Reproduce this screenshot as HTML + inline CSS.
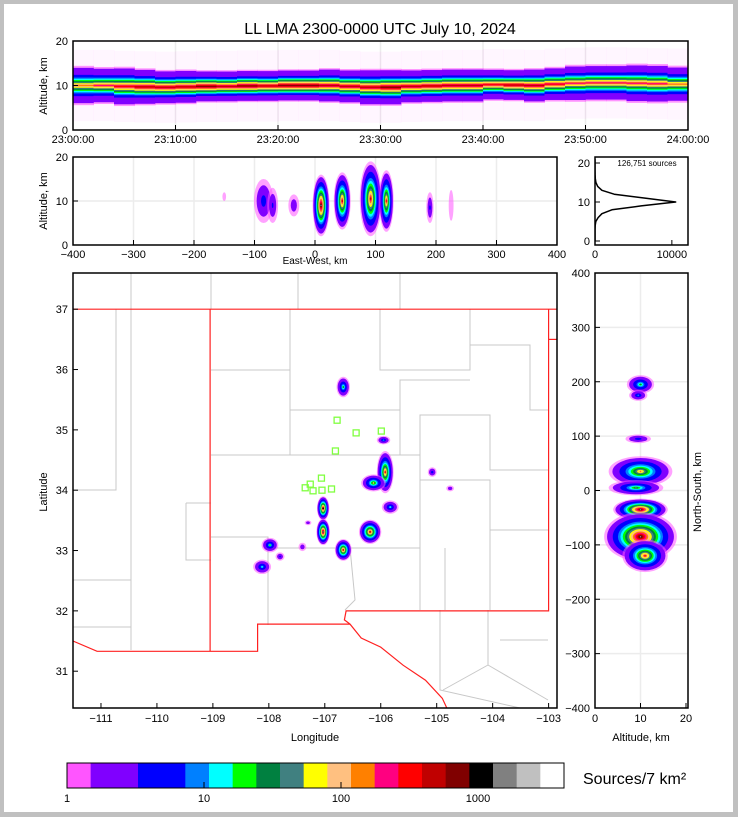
<!DOCTYPE html>
<html><head><meta charset="utf-8"><style>
html,body{margin:0;padding:0;background:#c0c0c0}
svg{display:block}
text{font-family:"Liberation Sans","DejaVu Sans",sans-serif;fill:#000}
</style></head><body>
<svg id="fig" width="738" height="817" viewBox="0 0 738 817" xmlns="http://www.w3.org/2000/svg">
<rect x="0" y="0" width="738" height="817" fill="#c0c0c0"/>
<rect x="4" y="4" width="729" height="808" fill="#fff"/>
<text x="380" y="34" font-size="16" text-anchor="middle">LL LMA 2300-0000 UTC July 10, 2024</text>
<g id="layer"></g>
</svg>
<script>
// ---- data ----
const colorLevels = ['#ff55ff','#8000ff','#8000ff','#0000ff','#0000ff','#0080ff','#00ffff','#00ff00','#008040','#408080','#ffff00','#ffc080','#ff8000','#ff0080','#ff0000','#c00000','#800000','#000000','#808080','#c0c0c0','#ffffff'];
const colorbarTicks = [1,10,100,1000];
const timeTickLabels = ['23:00:00','23:10:00','23:20:00','23:30:00','23:40:00','23:50:00','24:00:00'];
const timeBinLevels = [12,13,14,15,15,15,16,15,16,15,16,16,15,15,15,16,15,15,15,15,14,15,15,14,13,13,13,13,13,12];
const timeBinCenters = [10,10,9.8,9.7,9.6,9.7,9.8,9.8,9.9,9.9,10,10,10,9.8,9.6,9.6,9.8,9.9,10,10,10.2,10.1,10,10.3,10.5,10.6,10.6,10.5,10.4,10.3];
const timeBinSpread = [3.4,3.2,3.4,3.2,3,3,2.8,2.8,2.8,2.8,2.8,2.8,3,3,3.2,3.2,3,3,3,3,2.8,2.8,3,3,3.2,3.2,3.2,3.4,3.4,3.2];
const ewX = [-85,-70,-35,10,45,92,118,190,225,-150];
const ewAlt = [10,9,9,9,10,10.5,10,8.5,9,11];
const ewW = [16,9,9,14,14,18,12,6,4,3];
const ewH = [5,4,2.5,7,6.5,8.5,7,3.5,3.5,1];
const ewLevel = [4,3,2,18,15,15,14,3,0,0];
const histAlt = [0,1,2,3,4,5,6,7,8,9,10,11,12,13,14,15,16,17,18,19,20,21];
const histCount = [0,0,0,5,20,100,400,900,2200,6000,10500,6500,2500,900,350,120,40,15,5,0,0,0];
const mapLon = [-106.67,-105.92,-106.13,-105.83,-107.03,-107.03,-106.19,-106.67,-107.98,-108.12,-105.95,-105.08,-104.76,-107.4,-107.8,-107.3];
const mapLat = [35.71,34.3,34.12,33.72,33.70,33.31,33.31,33.01,33.09,32.73,34.83,34.3,34.03,33.06,32.9,33.46];
const mapRx = [0.12,0.15,0.22,0.15,0.11,0.12,0.2,0.15,0.15,0.16,0.12,0.08,0.07,0.07,0.08,0.06];
const mapRy = [0.17,0.35,0.14,0.11,0.2,0.22,0.2,0.18,0.12,0.12,0.07,0.08,0.05,0.07,0.07,0.04];
const mapLevel = [8,14,10,6,17,18,15,15,7,6,5,4,2,2,3,2];
const siteLon = [-106.78,-106.44,-105.99,-106.81,-107.06,-107.35,-107.26,-107.05,-106.88,-107.21];
const siteLat = [35.16,34.95,34.98,34.65,34.20,34.04,34.10,34.00,34.02,33.99];
const nsAlt = [10,9.5,10,9,10,10,11,9.5];
const nsY = [195,95,35,5,-35,-85,-120,175];
const nsRa = [3,2.8,7,6,6,8,5,2];
const nsRy = [17,8,28,14,20,45,30,10];
const nsLevel = [8,4,12,9,18,18,14,5];
const lonTicks = [-111,-110,-109,-108,-107,-106,-105,-104,-103];
const latTicks = [31,32,33,34,35,36,37];

// ---- helpers ----
const NS='http://www.w3.org/2000/svg';
const layer=document.getElementById('layer');
function el(tag,attrs,parent){const e=document.createElementNS(NS,tag);for(const k in attrs)e.setAttribute(k,attrs[k]);(parent||layer).appendChild(e);return e;}
function lin(d0,d1,r0,r1){return v=>r0+(v-d0)*(r1-r0)/(d1-d0);}
function txt(x,y,s,size,anchor,parent,name){const t=el('text',{x:x,y:y,'font-size':size,'text-anchor':anchor||'middle'},parent);t.textContent=s;return t;}
function panel(name,x,y,w,h){const g=el('g',{});
  const cp=el('clipPath',{id:'clip-'+name},g);el('rect',{x:x,y:y,width:w,height:h},cp);
  const inner=el('g',{'clip-path':'url(#clip-'+name+')'},g);
  return {g:g,inner:inner,x:x,y:y,w:w,h:h};}
function frame(p){const r=el('rect',{x:p.x,y:p.y,width:p.w,height:p.h,fill:'none',stroke:'#000','stroke-width':1.5},p.g);}
function gridV(p,x){el('line',{x1:x,x2:x,y1:p.y,y2:p.y+p.h,stroke:'#ececec','stroke-width':1.5},p.inner);}
function gridH(p,y){el('line',{x1:p.x,x2:p.x+p.w,y1:y,y2:y,stroke:'#ececec','stroke-width':1.5},p.inner);}
function tickB(p,x){el('line',{x1:x,x2:x,y1:p.y+p.h,y2:p.y+p.h-5,stroke:'#000'},p.g);}
function tickL(p,y){el('line',{x1:p.x,x2:p.x+5,y1:y,y2:y,stroke:'#000'},p.g);}
function blob(parent,cx,cy,rx,ry,L){for(let i=0;i<=L;i++){const f=Math.pow(1-i/(L+1.3),1.6);const e=el('ellipse',{cx:cx,cy:cy,rx:Math.max(0.8,rx*f),ry:Math.max(0.8,ry*f),fill:colorLevels[i],opacity:i===0?0.55:1},parent);}}

// ---- top panel: time vs altitude ----
{const p=panel('time-altitude-panel',73,41,615,89);
 const xs=lin(0,60,73,688), ys=lin(0,20,130,41);
 for(let i=0;i<=6;i++)gridV(p,xs(i*10));gridH(p,ys(10));
 const n=timeBinLevels.length, bw=60/n;
 for(let b=0;b<n;b++){const L=timeBinLevels[b],c=timeBinCenters[b],s=timeBinSpread[b];
  const x0=xs(b*bw),x1=xs((b+1)*bw);
  el('rect',{x:x0,y:ys(c+8),width:x1-x0+0.5,height:ys(c-8)-ys(c+8),fill:'#ff55ff',opacity:0.05},p.inner);
  for(let i=0;i<=L;i++){const f=Math.pow(1-i/(L+1.5),1.4);const hh=s*f*(i<3?1.3:1);
   const r=el('rect',{x:x0,y:ys(c+hh),width:x1-x0+0.5,height:ys(c-hh)-ys(c+hh),fill:colorLevels[i],opacity:i===0?0.6:1},p.inner);
   }}
 frame(p);
 [0,10,20].forEach(v=>{tickL(p,ys(v));txt(68,ys(v)+4,String(v),11,'end',p.g,'y-tick-label');});
 timeTickLabels.forEach((s,i)=>{tickB(p,xs(i*10));txt(xs(i*10),143,s,11,'middle',p.g,'x-tick-label');});
 const t=txt(0,0,'Altitude, km',11,'middle',p.g,'y-axis-title');t.setAttribute('transform','translate(47,86) rotate(-90)');}

// ---- EW vs altitude ----
{const p=panel('ew-altitude-panel',73,157,484,88);
 const xs=lin(-400,400,73,557), ys=lin(0,20,245,157);
 for(let v=-400;v<=400;v+=100)gridV(p,xs(v));gridH(p,ys(10));
 ewX.forEach((x,i)=>blob(p.inner,xs(x),ys(ewAlt[i]),ewW[i]*0.605,ewH[i]*4.4,ewLevel[i]));
 frame(p);
 [0,10,20].forEach(v=>{tickL(p,ys(v));txt(68,ys(v)+4,String(v),11,'end',p.g,'y-tick-label');});
 for(let v=-400;v<=400;v+=100){tickB(p,xs(v));txt(xs(v),258,String(v).replace('-','\u2212'),11,'middle',p.g,'x-tick-label');}
 txt(315,264,'East-West, km',10,'middle',p.g,'x-axis-title');
 const t=txt(0,0,'Altitude, km',11,'middle',p.g,'y-axis-title');t.setAttribute('transform','translate(47,201) rotate(-90)');}

// ---- altitude histogram ----
{const p=panel('altitude-histogram',595,157,93,88);
 const xs=lin(0,12100,595,688), ys=lin(0,20,241,163);
 let d='';histAlt.forEach((a,i)=>{d+=(i?'L':'M')+xs(histCount[i]).toFixed(1)+','+ys(a).toFixed(1);});
 const pl=el('path',{d:d,fill:'none',stroke:'#000','stroke-width':1.5,'stroke-linejoin':'round'},p.inner);
 
 frame(p);
 [0,10,20].forEach(v=>{tickL(p,ys(v));txt(590,ys(v)+4,String(v),11,'end',p.g,'y-tick-label');});
 [0,10000].forEach(v=>{tickB(p,xs(v));txt(xs(v),258,String(v),11,'middle',p.g,'x-tick-label');});
 txt(647,166,'126,751 sources',8,'middle',p.g,'source-count-label');}

// ---- map ----
{const p=panel('plan-view-map',73,273,484,435);
 const xs=lin(-111.5,-102.85,73,557), ys=lin(37.6,30.39,273,708);
 const gray=[[[131,273],[131,309]],[[211,273],[211,309]],[[298,273],[298,309]],[[400,273],[400,309]],[[116,309],[116,490],[73,490]],[[131,309],[131,650]],[[73,580],[131,580]],[[73,627],[131,627]],[[211,370],[290,370],[290,309]],[[211,455],[290,455],[345,455]],[[290,370],[290,455]],[[211,537],[268,537],[268,625]],[[268,548],[350,548],[355,600],[345,610]],[[350,548],[420,548],[420,610]],[[290,410],[400,410],[400,380],[470,380]],[[400,410],[400,455]],[[345,455],[420,455],[420,415],[490,415],[490,470],[548,470]],[[420,480],[490,480],[490,530],[548,530]],[[420,455],[420,548]],[[445,548],[445,610]],[[490,530],[490,610]],[[380,309],[380,370],[470,370],[470,309]],[[470,345],[530,345],[530,410],[548,410]],[[186,503],[211,503]],[[186,503],[186,560],[211,560]],[[440,610],[440,690],[520,708]],[[488,610],[488,665],[443,690]],[[488,665],[548,700]],[[500,640],[548,640]]];
 gray.forEach(line=>{const l=el('polyline',{points:line.map(q=>q.join(',')).join(' '),fill:'none',stroke:'#c8c8c8','stroke-width':1},p.inner);});
 const red=[[[-111.5,37.0],[-102.85,37.0]],[[-109.05,37.0],[-109.05,31.33]],[[-103.0,37.0],[-103.0,32.0],[-106.62,32.0],[-106.65,31.85],[-106.55,31.78],[-106.35,31.55],[-106.0,31.4],[-105.6,31.1],[-105.2,30.85],[-104.9,30.55],[-104.82,30.39]],[[-111.5,31.5],[-111.07,31.33],[-108.2,31.33],[-108.2,31.78],[-106.55,31.78]],[[-103.0,36.5],[-102.85,36.5]]];
 red.forEach(line=>{const l=el('polyline',{points:line.map(q=>xs(q[0]).toFixed(1)+','+ys(q[1]).toFixed(1)).join(' '),fill:'none',stroke:'#ff2020','stroke-width':1.2},p.inner);});
 mapLon.forEach((lo,i)=>blob(p.inner,xs(lo),ys(mapLat[i]),mapRx[i]*55.9,mapRy[i]*60.33,mapLevel[i]));
 siteLon.forEach((lo,i)=>{const r=el('rect',{x:xs(lo)-3,y:ys(siteLat[i])-3,width:6,height:6,fill:'none',stroke:'#80ff40','stroke-width':1.3},p.inner);});
 frame(p);
 latTicks.forEach(v=>{tickL(p,ys(v));txt(68,ys(v)+4,String(v),11,'end',p.g,'y-tick-label');});
 lonTicks.forEach(v=>{tickB(p,xs(v));txt(xs(v),722,String(v).replace('-','\u2212'),11,'middle',p.g,'x-tick-label');});
 txt(315,741,'Longitude',11,'middle',p.g,'x-axis-title');
 const t=txt(0,0,'Latitude',11,'middle',p.g,'y-axis-title');t.setAttribute('transform','translate(47,492) rotate(-90)');}

// ---- NS vs altitude ----
{const p=panel('ns-altitude-panel',595,273,93,435);
 const xs=lin(0,20,595,686), ys=lin(-400,400,708,273);
 for(let v=-400;v<=400;v+=100)gridH(p,ys(v));gridV(p,xs(10));
 nsAlt.forEach((a,i)=>blob(p.inner,xs(a),ys(nsY[i]),nsRa[i]*4.55,nsRy[i]*0.544,nsLevel[i]));
 frame(p);
 for(let v=-400;v<=400;v+=100){tickL(p,ys(v));txt(590,ys(v)+4,String(v).replace('-','\u2212'),11,'end',p.g,'y-tick-label');}
 [0,10,20].forEach(v=>{tickB(p,xs(v));txt(xs(v),722,String(v),11,'middle',p.g,'x-tick-label');});
 txt(641,741,'Altitude, km',11,'middle',p.g,'x-axis-title');
 const t=txt(0,0,'North-South, km',11,'middle',p.g,'y-axis-title');t.setAttribute('transform','translate(701,492) rotate(-90)');}

// ---- colorbar ----
{const g=el('g',{});
 const x0=67,x1=564,w=(x1-x0)/colorLevels.length;
 colorLevels.forEach((c,i)=>{const r=el('rect',{x:x0+i*w,y:763,width:w+0.4,height:25,fill:c},g);});
 el('rect',{x:x0,y:763,width:x1-x0,height:25,fill:'none',stroke:'#000','stroke-width':1},g);
 const cs=v=>x0+Math.log10(v)*137;
 colorbarTicks.forEach(v=>{el('line',{x1:cs(v),x2:cs(v),y1:788,y2:782,stroke:'#000'},g);txt(cs(v),802,String(v),11,'middle',g,'colorbar-tick-label');});
 txt(583,784,'Sources/7 km\u00B2',16,'start',g,'colorbar-title');}
</script>
</body></html>
